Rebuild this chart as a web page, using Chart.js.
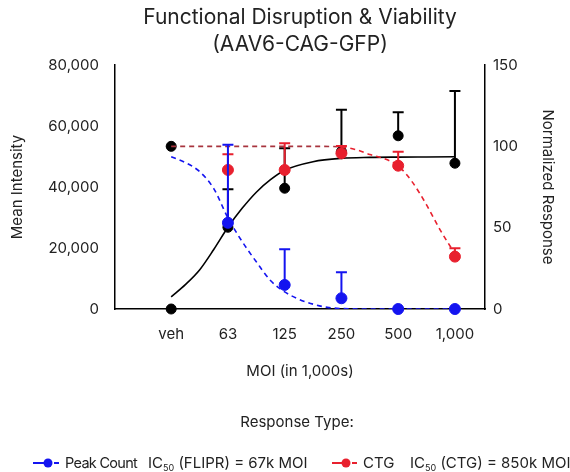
<!DOCTYPE html>
<html><head><meta charset="utf-8">
<script src="https://cdn.jsdelivr.net/npm/chart.js@4.4.1/dist/chart.umd.min.js"></script>
<style>
html,body{margin:0;padding:0;background:#fff;}
#wrap{position:relative;width:570px;height:472px;overflow:hidden;font-family:Inter, sans-serif;color:#222;}
canvas{position:absolute;left:0;top:0;}
.lg{position:absolute;white-space:nowrap;font-size:15px;line-height:18px;}
.lg sub{font-size:9px;vertical-align:-3px;line-height:0;}
</style></head><body>
<div id="wrap">
<canvas id="c" width="570" height="472"></canvas>
<div class="lg" style="left:0;width:594px;text-align:center;top:413px">Response Type:</div>
<svg class="lg" style="left:32px;top:456px" width="28" height="14"><line x1="1" y1="7" x2="12" y2="7" stroke="#1414f0" stroke-width="2"/><circle cx="16" cy="7" r="4.5" fill="#1414f0"/><line x1="22" y1="7" x2="27" y2="7" stroke="#1414f0" stroke-width="2"/></svg>
<div class="lg" style="left:65px;top:454px;font-size:14.5px;letter-spacing:-0.7px">Peak Count</div>
<div class="lg" style="left:148px;top:454px">IC<sub>50</sub> (FLIPR) = 67k MOI</div>
<svg class="lg" style="left:331px;top:456px" width="28" height="14"><line x1="1" y1="7" x2="11" y2="7" stroke="#e8202e" stroke-width="2"/><circle cx="15" cy="7" r="4.5" fill="#e8202e"/><line x1="21" y1="7" x2="26" y2="7" stroke="#e8202e" stroke-width="2"/></svg>
<div class="lg" style="left:363px;top:454px">CTG</div>
<div class="lg" style="left:410px;top:454px">IC<sub>50</sub> (CTG) = 850k MOI</div>
</div>
<script>
// ---- data ----
const categories = ['veh', '63', '125', '250', '500', '1,000'];
const meanIntensity    = [0, 26800, 39600, 51600, 56800, 47800];
const meanIntensityErr = [null, 39300, 52700, 65300, 64500, 71500];
const vehicleResponse  = [100];
const peakCount        = [null, 53, 14.8, 6.6, 0, 0];
const peakCountErr     = [null, 101, 36.7, 22.6, null, null];
const ctg              = [null, 85.5, 85.5, 95.7, 88.1, 32.2];
const ctgErr           = [null, 95.1, 101.9, 100.2, 96.7, 37.3];
// fitted curves (position along category axis, value)
const meanFitX = [0, 0.25, 0.5, 0.75, 1, 1.25, 1.5, 1.75, 2, 2.5, 3, 3.5, 4, 4.5, 5];
const meanFitY = [4000, 8000, 12800, 19500, 26800, 33000, 38300, 42400, 45500, 48300, 49400, 49700, 49800, 49850, 49900];
const peakFitX = [0, 0.25, 0.5, 0.75, 1, 1.25, 1.5, 1.75, 2, 2.25, 2.5, 2.75, 3, 3.5, 4, 4.5, 5];
const peakFitY = [93.6, 90, 84.5, 74, 56, 41.5, 29, 17.5, 10.5, 6, 3, 1, 0.3, 0, 0, 0, 0];
const ctgFitX  = [0, 0.5, 1, 1.5, 2, 2.5, 3, 3.25, 3.5, 3.75, 4, 4.25, 4.5, 4.75, 5];
const ctgFitY  = [100, 100, 100, 100, 100, 100, 99.7, 98, 95, 92.5, 88, 78, 64, 48, 34];
const leftTicks  = [0, 20000, 40000, 60000, 80000];
const rightTicks = [0, 50, 100, 150];

const BLUE = '#1414f0', RED = '#e8202e', MAROON = '#a8343e', BLACK = '#000';
const pts = (arr) => arr.map((v, i) => v === null ? null : {x: i, y: v}).filter(p => p);
const curve = (xs, ys) => xs.map((x, i) => ({x, y: ys[i]}));

const errorBars = {
  id: 'errorBars',
  beforeDatasetDraw(chart, args) {
    const ds = chart.data.datasets[args.index];
    if (!ds.errTop) return;
    const xs = chart.scales.x, ys = chart.scales[ds.yAxisID];
    const ctx = chart.ctx;
    ctx.save();
    ctx.strokeStyle = ds.backgroundColor; ctx.lineWidth = 2;
    ds.errTop.forEach((top, i) => {
      if (top === null || ds.errBase[i] === null) return;
      const px = xs.getPixelForValue(i);
      const y0 = ys.getPixelForValue(ds.errBase[i]);
      const y1 = ys.getPixelForValue(top);
      ctx.beginPath();
      ctx.moveTo(px, y0); ctx.lineTo(px, y1);
      ctx.moveTo(px - 5.5, y1); ctx.lineTo(px + 5.5, y1);
      ctx.stroke();
    });
    ctx.restore();
  }
};

const FONT = 'Inter';
new Chart(document.getElementById('c'), {
  type: 'line',
  data: {
    datasets: [
      {label: 'Peak Count', data: pts(peakCount), yAxisID: 'y1', showLine: false, pointRadius: 5.5,
       backgroundColor: BLUE, borderColor: BLUE, pointHoverRadius: 5.5, clip: false,
       errTop: peakCountErr, errBase: peakCount},
      {label: 'Peak Count fit', data: curve(peakFitX, peakFitY), yAxisID: 'y1', pointRadius: 0,
       borderColor: BLUE, borderWidth: 1.6, borderDash: [5, 4], cubicInterpolationMode: 'monotone', fill: false},
      {label: 'CTG', data: pts(ctg), yAxisID: 'y1', showLine: false, pointRadius: 5.5,
       backgroundColor: RED, borderColor: RED, clip: false,
       errTop: ctgErr, errBase: ctg},
      {label: 'CTG fit', data: curve(ctgFitX, ctgFitY), yAxisID: 'y1', pointRadius: 0,
       borderColor: RED, borderWidth: 1.6, borderDash: [5, 4], cubicInterpolationMode: 'monotone', fill: false,
       segment: {borderColor: c => c.p0.parsed.x < 3 ? MAROON : RED}},
      {label: 'Mean Intensity', data: pts(meanIntensity), yAxisID: 'y', showLine: false, pointRadius: 5,
       backgroundColor: BLACK, borderColor: BLACK, clip: false,
       errTop: meanIntensityErr, errBase: meanIntensity},
      {label: 'Vehicle', data: vehicleResponse.map(v => ({x: 0, y: v})), yAxisID: 'y1', showLine: false, pointRadius: 5,
       backgroundColor: BLACK, borderColor: BLACK, clip: false},
      {label: 'Mean Intensity fit', data: curve(meanFitX, meanFitY), yAxisID: 'y', pointRadius: 0,
       borderColor: BLACK, borderWidth: 1.6, cubicInterpolationMode: 'monotone', fill: false}
    ]
  },
  options: {
    responsive: false, animation: false, devicePixelRatio: 1,
    layout: {padding: {left: 0, right: 0, top: 0, bottom: 92}},
    plugins: {
      legend: {display: false}, tooltip: {enabled: false},
      title: {display: true, fullSize: false, text: ['Functional Disruption & Viability', '(AAV6-CAG-GFP)'],
        color: '#222', font: {family: FONT, size: 21, weight: 'normal', lineHeight: 1.286},
        padding: {top: 4.5, bottom: 6.5}}
    },
    scales: {
      x: {type: 'linear', min: -0.99, max: 5.53,
        afterBuildTicks: s => { s.ticks = categories.map((c, i) => ({value: i})); },
        afterFit: s => { s.height = 71; },
        grid: {display: false, drawTicks: false},
        border: {display: true, color: BLACK, width: 1.5},
        ticks: {padding: 16, color: '#222', font: {family: FONT, size: 15}, callback: v => categories[v]},
        title: {display: true, text: 'MOI (in 1,000s)', color: '#222', font: {family: FONT, size: 15}, padding: 0}},
      y: {position: 'left', min: 0, max: 80000,
        afterBuildTicks: s => { s.ticks = leftTicks.map(v => ({value: v})); },
        afterFit: s => { s.width = 115; },
        grid: {display: false, drawTicks: false},
        border: {display: true, color: BLACK, width: 1.5},
        ticks: {padding: 16, color: '#222', font: {family: FONT, size: 15}, callback: v => v.toLocaleString('en-US')},
        title: {display: true, text: 'Mean Intensity', color: '#222', font: {family: FONT, size: 15}, padding: {top: 8}}},
      y1: {position: 'right', min: 0, max: 150,
        afterBuildTicks: s => { s.ticks = rightTicks.map(v => ({value: v})); },
        afterFit: s => { s.width = 85; },
        grid: {display: false, drawTicks: false},
        border: {display: true, color: BLACK, width: 1.5},
        ticks: {padding: 8, color: '#222', font: {family: FONT, size: 15}},
        title: {display: true, text: 'Normalized Response', color: '#222', font: {family: FONT, size: 15}, padding: {top: 13}}}
    }
  },
  plugins: [errorBars]
});
</script>
</body></html>
